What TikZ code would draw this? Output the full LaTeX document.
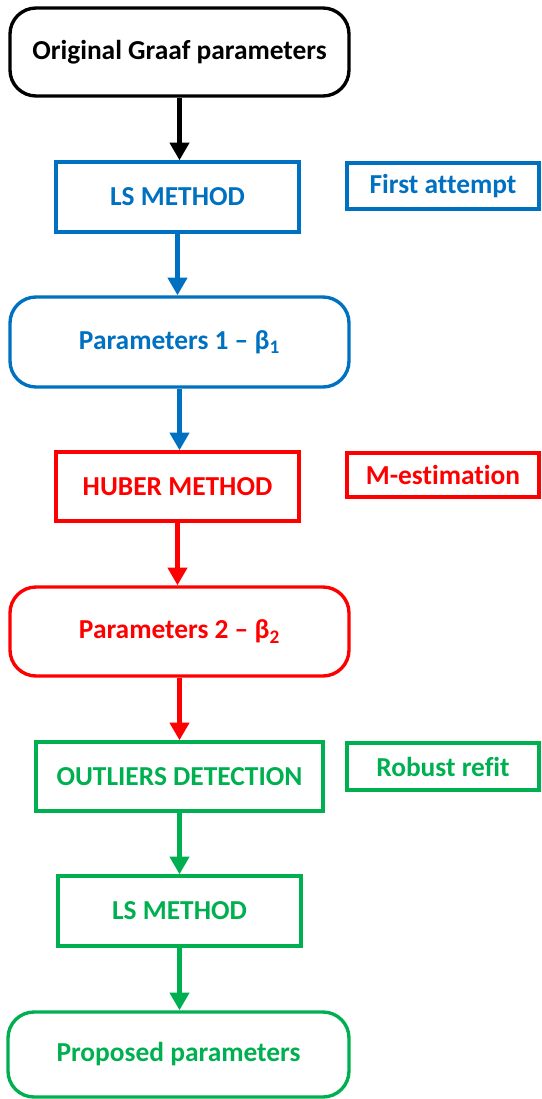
\documentclass[tikz,border=0pt]{standalone}
\usepackage{fontspec}
\setmainfont[Ligatures=NoCommon]{Carlito}
\usetikzlibrary{arrows.meta}
\definecolor{lsblue}{HTML}{0070C0}
\definecolor{huberred}{HTML}{FF0000}
\definecolor{refitgreen}{HTML}{00B050}
\tikzset{
  stagebox/.style={draw,line width=2.4pt,rounded corners=0.65cm,align=center,
    inner sep=0pt,minimum width=8.475cm,minimum height=2.2cm,
    font=\bfseries\fontsize{19.5}{23}\selectfont},
  methodbox/.style={draw,line width=2.4pt,align=center,inner sep=0pt,
    minimum width=6.075cm,minimum height=1.75cm,
    font=\bfseries\fontsize{19.5}{23}\selectfont},
  notebox/.style={draw,line width=2.4pt,align=center,inner sep=0pt,
    minimum width=4.8cm,minimum height=1.15cm,
    font=\bfseries\fontsize{19.5}{23}\selectfont},
  flowarrow/.style={-{Triangle[width=0.47cm,length=0.44cm]},line width=3.5pt}
}
\begin{document}
\begin{tikzpicture}
\useasboundingbox (0,0) rectangle (13.525,-27.475);
% main column
\node[stagebox] (original) at (4.4875,-1.3) {Original Graaf parameters};
\node[methodbox,lsblue] (lsfirst) at (4.4375,-4.925) {LS METHOD};
\node[stagebox,lsblue,minimum height=2.25cm] (paramone) at (4.4875,-8.55) {Parameters 1 – β\textsubscript{1}};
\node[methodbox,huberred,minimum height=1.725cm] (huber) at (4.4375,-12.1625) {HUBER METHOD};
\node[stagebox,huberred,minimum height=2.225cm] (paramtwo) at (4.4875,-15.7875) {Parameters 2 – β\textsubscript{2}};
\node[methodbox,refitgreen,minimum width=7.175cm,minimum height=1.725cm] (outliers) at (4.4875,-19.4125) {OUTLIERS DETECTION};
\node[methodbox,refitgreen] (lssecond) at (4.4875,-22.775) {LS METHOD};
\node[stagebox,refitgreen,minimum width=8.525cm,minimum height=2.125cm] (proposed) at (4.4625,-26.3625) {Proposed parameters};
% side notes
\node[notebox,lsblue] (firstnote) at (11.075,-4.65) {First attempt};
\node[notebox,huberred,minimum height=1.1cm] (mnote) at (11.075,-11.875) {M-estimation};
\node[notebox,refitgreen,minimum height=1.175cm] (refitnote) at (11.075,-19.1625) {Robust refit};
% arrows
\draw[flowarrow] (original.south) -- (original.south |- lsfirst.north);
\draw[flowarrow,lsblue] (lsfirst.south) -- (lsfirst.south |- paramone.north);
\draw[flowarrow,lsblue] (paramone.south) -- (paramone.south |- huber.north);
\draw[flowarrow,huberred] (huber.south) -- (huber.south |- paramtwo.north);
\draw[flowarrow,huberred] (paramtwo.south) -- (paramtwo.south |- outliers.north);
\draw[flowarrow,refitgreen] (outliers.south) -- (outliers.south |- lssecond.north);
\draw[flowarrow,refitgreen] (lssecond.south) -- (lssecond.south |- proposed.north);
\end{tikzpicture}
\end{document}
